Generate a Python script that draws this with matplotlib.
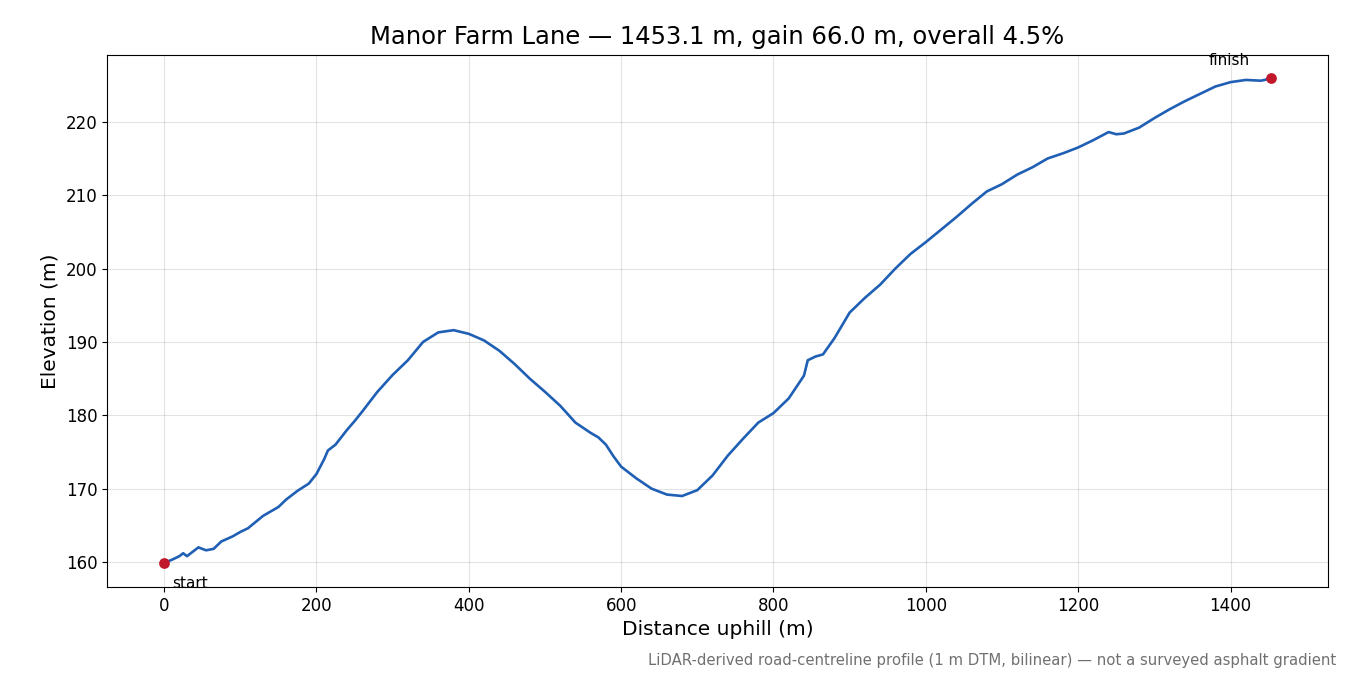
import numpy as np
import matplotlib.pyplot as plt

# distance (m) and elevation (m)
dist = [0, 10, 20, 25, 30, 35, 45, 55, 65, 75, 90, 100, 110, 130, 150, 160, 175, 190,
        200, 210, 215, 225, 240, 250, 260, 280, 300, 320, 340, 360, 380, 400, 420, 440,
        460, 480, 500, 520, 540, 560, 570, 580, 590, 600, 620, 640, 660, 680, 700, 720,
        740, 760, 780, 800, 820, 840, 845, 855, 865, 880, 900, 920, 940, 960, 980, 1000,
        1020, 1040, 1060, 1080, 1100, 1120, 1140, 1160, 1180, 1200, 1220, 1240, 1250,
        1260, 1280, 1300, 1320, 1340, 1360, 1380, 1400, 1420, 1440, 1453.1]
elev = [159.9, 160.3, 160.8, 161.2, 160.8, 161.2, 162.0, 161.6, 161.8, 162.8, 163.5,
        164.1, 164.6, 166.3, 167.5, 168.5, 169.7, 170.7, 172.0, 174.0, 175.2, 176.0,
        178.0, 179.2, 180.5, 183.2, 185.5, 187.5, 190.0, 191.3, 191.6, 191.1, 190.2,
        188.8, 187.0, 185.0, 183.2, 181.3, 179.0, 177.6, 177.0, 176.0, 174.4, 173.0,
        171.4, 170.0, 169.2, 169.0, 169.8, 171.8, 174.5, 176.8, 179.0, 180.3, 182.3,
        185.4, 187.5, 188.0, 188.3, 190.5, 194.0, 196.0, 197.8, 200.0, 202.0, 203.6,
        205.3, 207.0, 208.8, 210.5, 211.5, 212.8, 213.8, 215.0, 215.7, 216.5, 217.5,
        218.6, 218.3, 218.4, 219.2, 220.5, 221.7, 222.8, 223.8, 224.8, 225.4, 225.7,
        225.6, 225.9]

fig = plt.figure(figsize=(13.5, 6.75), dpi=100)
ax = fig.add_axes([107/1350, 1 - 587/675, (1328-107)/1350, (587-55)/675])

ax.plot(dist, elev, color="#1f5fb4", linewidth=1.9)
ax.scatter([dist[0], dist[-1]], [elev[0], elev[-1]], color="#c0182a", s=45, zorder=3)
ax.annotate("start", (dist[0], elev[0]), xytext=(6, -18), textcoords="offset points", fontsize=11)
ax.annotate("finish", (dist[-1], elev[-1]), xytext=(-45, 10), textcoords="offset points", fontsize=11)

ax.set_xlim(-75, 1528)
ax.set_ylim(156.6, 229.1)
ax.set_xticks(range(0, 1401, 200))
ax.set_yticks(range(160, 221, 10))
ax.tick_params(labelsize=12)
ax.grid(True, alpha=0.35)
ax.set_xlabel("Distance uphill (m)", fontsize=14.5, labelpad=4)
ax.set_ylabel("Elevation (m)", fontsize=14.5)
ax.set_title("Manor Farm Lane — 1453.1 m, gain 66.0 m, overall 4.5%", fontsize=17.5, pad=8)

fig.text(1336/1350, 1 - 660/675, "LiDAR-derived road-centreline profile (1 m DTM, bilinear) — not a surveyed asphalt gradient",
         ha="right", va="center", fontsize=10.7, color="#707070")

fig.savefig("out.png", dpi=100)
